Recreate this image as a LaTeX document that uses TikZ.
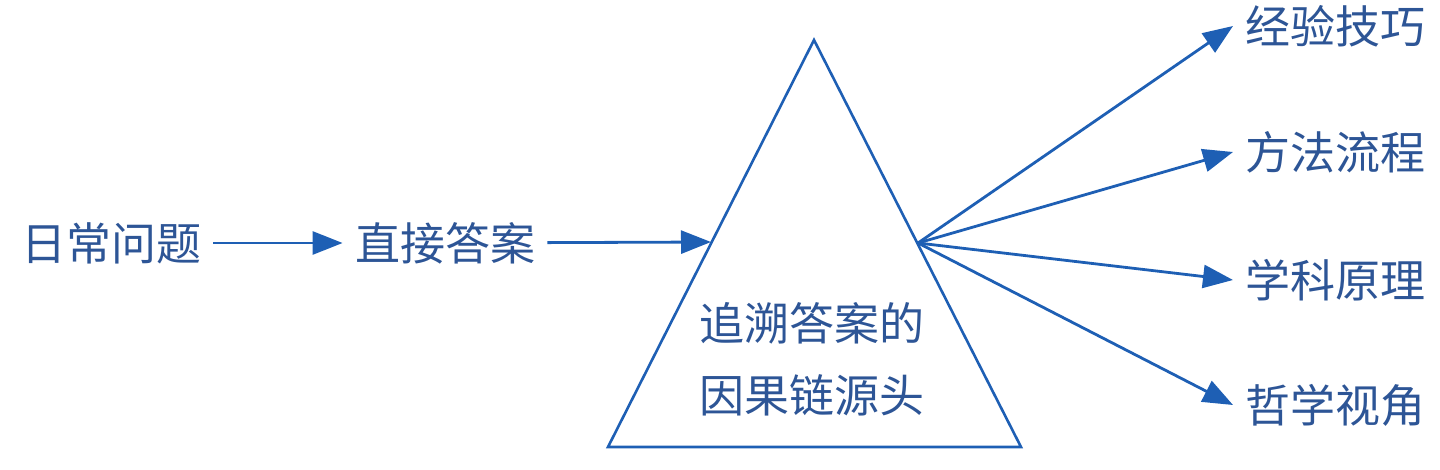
\documentclass[tikz,border=0pt]{standalone}
\usepackage{fontspec}
\newfontfamily\cjk{Noto Sans CJK SC}
\usetikzlibrary{arrows.meta}
\definecolor{lineblue}{RGB}{30,95,180}
\definecolor{textblue}{RGB}{45,85,150}
\begin{document}
\begin{tikzpicture}[x=0.5pt,y=-0.5pt,
  lbl/.style={text=textblue,inner xsep=6pt,inner ysep=0pt,font=\cjk\fontsize{22.5pt}{36pt}\selectfont},
  link/.style={draw=lineblue,line width=1.4pt,-{Triangle[length=15pt,width=11.5pt]}}]
\useasboundingbox (0,0) rectangle (1440,470);
\draw[lineblue,line width=1.3pt,line join=miter] (814,40) coordinate (apex) -- (608,447) coordinate (base-left) -- (1021,447) coordinate (base-right) -- cycle;
\coordinate (tri-left) at (711,242);
\coordinate (tri-right) at (918,243);
\node[lbl] (question) at (111,243) {日常问题};
\node[lbl] (answer) at (445,243) {直接答案};
\node[lbl,align=center] (source) at (812,359) {追溯答案的\\因果链源头};
\node[lbl,anchor=west] (skill) at (1233,26) {经验技巧};
\node[lbl,anchor=west] (method) at (1233,152) {方法流程};
\node[lbl,anchor=west] (theory) at (1233,280) {学科原理};
\node[lbl,anchor=west] (view) at (1233,405) {哲学视角};
\draw[link] (question) -- (answer);
\draw[link] (answer) -- (tri-left);
\draw[link] (tri-right) -- (skill.west);
\draw[link] (tri-right) -- (method.west);
\draw[link] (tri-right) -- (theory.west);
\draw[link] (tri-right) -- (view.west);
\end{tikzpicture}
\end{document}
